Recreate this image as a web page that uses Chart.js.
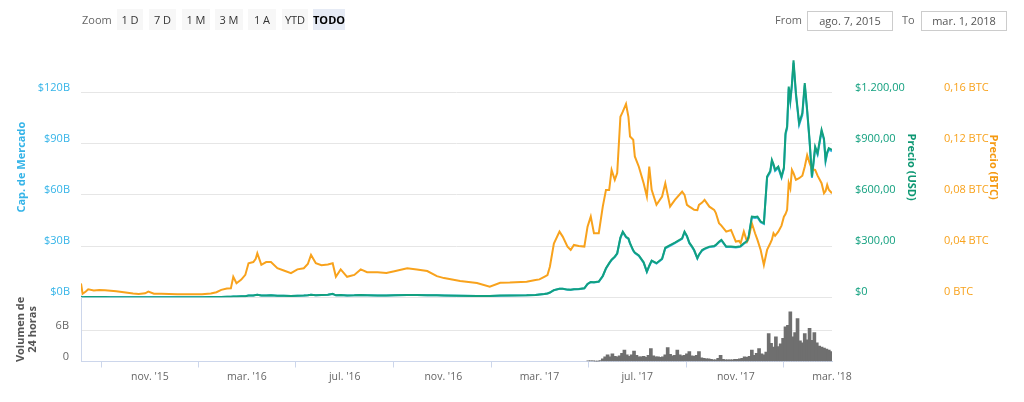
<!DOCTYPE html>
<html lang="es">
<head>
<meta charset="utf-8">
<title>Cap. de Mercado / Precio</title>
<script src="https://cdn.jsdelivr.net/npm/chart.js@4.4.1/dist/chart.umd.min.js"></script>
<style>
  html, body { margin: 0; padding: 0; background: #fff; }
  body { position: relative; width: 1024px; height: 402px; overflow: hidden; font-family: "Open Sans", sans-serif; }
  canvas { position: absolute; left: 0; }
  #mainChart { top: 0; }
  #volumeChart { top: 250px; }
  .bar { position: absolute; z-index: 2; }
  .lbl { position: absolute; top: 11px; font-size: 11px; color: #666; line-height: 18px; }
  .btn { position: absolute; top: 9px; height: 21px; line-height: 21px; font-size: 11px; color: #333; background: #f7f7f7; text-align: center; }
  .btn.on { background: #e6ebf5; color: #000; font-weight: bold; }
  .date { position: absolute; top: 11px; height: 18px; line-height: 18px; border: 1px solid #ccc; font-size: 11px; color: #555; text-align: center; }
</style>
</head>
<body>
<canvas id="mainChart" width="1024" height="330"></canvas>
<canvas id="volumeChart" width="1024" height="152"></canvas>

<div class="bar">
  <span class="lbl" style="left:82px">Zoom</span>
  <span class="btn" style="left:117px;width:26px">1 D</span>
  <span class="btn" style="left:149px;width:27px">7 D</span>
  <span class="btn" style="left:182px;width:28px">1 M</span>
  <span class="btn" style="left:215px;width:28px">3 M</span>
  <span class="btn" style="left:248px;width:28px">1 A</span>
  <span class="btn" style="left:282px;width:26px">YTD</span>
  <span class="btn on" style="left:313px;width:32px">TODO</span>
  <span class="lbl" style="left:775px">From</span>
  <span class="date" style="left:807px;width:84px">ago. 7, 2015</span>
  <span class="lbl" style="left:902px">To</span>
  <span class="date" style="left:921px;width:84px">mar. 1, 2018</span>
</div>

<script>
// fechas de los puntos de precio / cap. de mercado
const MAIN_DATES = [
  "2015-08-07","2015-08-09","2015-08-13","2015-08-16","2015-08-23","2015-08-30","2015-09-06","2015-09-13","2015-09-20","2015-09-27",
  "2015-10-04","2015-10-11","2015-10-18","2015-10-26","2015-10-30","2015-11-06","2015-11-15","2015-11-25","2015-12-05","2015-12-15",
  "2015-12-25","2016-01-05","2016-01-16","2016-01-23","2016-01-29","2016-02-05","2016-02-10","2016-02-13","2016-02-17","2016-02-23",
  "2016-02-28","2016-03-03","2016-03-09","2016-03-12","2016-03-14","2016-03-19","2016-03-25","2016-03-31","2016-04-08","2016-04-16",
  "2016-04-25","2016-05-03","2016-05-11","2016-05-16","2016-05-20","2016-05-26","2016-06-02","2016-06-10","2016-06-16","2016-06-20",
  "2016-06-26","2016-07-04","2016-07-13","2016-07-21","2016-07-29","2016-08-11","2016-08-22","2016-09-01","2016-09-17","2016-09-29",
  "2016-10-12","2016-10-24","2016-11-02","2016-11-22","2016-12-13","2016-12-29","2017-01-11","2017-01-23","2017-02-13","2017-02-24",
  "2017-03-01","2017-03-07","2017-03-11","2017-03-14","2017-03-19","2017-03-26","2017-03-30","2017-04-05","2017-04-09","2017-04-13",
  "2017-04-19","2017-04-26","2017-04-30","2017-05-04","2017-05-08","2017-05-14","2017-05-19","2017-05-23","2017-05-27","2017-05-30",
  "2017-06-03","2017-06-06","2017-06-10","2017-06-13","2017-06-17","2017-06-20","2017-06-22","2017-06-26","2017-06-28","2017-07-03",
  "2017-07-09","2017-07-13","2017-07-16","2017-07-19","2017-07-25","2017-08-01","2017-08-05","2017-08-11","2017-08-17","2017-08-26",
  "2017-08-29","2017-09-01","2017-09-04","2017-09-07","2017-09-10","2017-09-14","2017-09-16","2017-09-20","2017-09-23","2017-09-29",
  "2017-10-05","2017-10-07","2017-10-11","2017-10-14","2017-10-20","2017-10-26","2017-11-01","2017-11-05","2017-11-07","2017-11-11",
  "2017-11-15","2017-11-17","2017-11-21","2017-11-25","2017-11-28","2017-12-02","2017-12-06","2017-12-10","2017-12-14","2017-12-16",
  "2017-12-18","2017-12-20","2017-12-24","2017-12-28","2017-12-31","2018-01-02","2018-01-04","2018-01-06","2018-01-08","2018-01-10",
  "2018-01-12","2018-01-15","2018-01-19","2018-01-23","2018-01-26","2018-01-29","2018-02-01","2018-02-04","2018-02-08","2018-02-11",
  "2018-02-16","2018-02-19","2018-02-21","2018-02-23","2018-02-25","2018-03-01"
];

const PRICE_USD = [
  2.8,0.7,1.2,1.6,1.4,1.3,1.3,1.0,0.95,0.8,
  0.7,0.6,0.5,0.95,1.0,0.9,0.9,0.9,0.85,0.85,
  0.9,0.95,1.2,1.6,2.4,2.6,3.2,5.3,4.2,5.8,
  6.8,10.0,11.0,14.0,14.5,10.5,11.0,11.5,9.5,8.7,
  8.0,9.5,10.0,12.0,14.5,12.5,13.8,14.5,20.0,11.5,
  13.5,11.0,11.5,13.5,12.5,11.0,11.0,11.8,13.0,13.2,
  12.0,11.5,10.9,9.8,8.3,8.0,9.9,10.5,11.5,13.5,
  17,19,22,28,42,50,50,45,44,47,
  48,53,78,90,88,92,125,170,200,220,
  238,258,350,385,355,345,317,275,262,245,
  205,150,185,215,200,226,290,305,320,345,
  385,360,320,300,277,229,250,277,285,297,
  300,307,325,336,297,297,295,297,300,317,
  330,356,473,470,473,444,434,707,740,805,
  780,747,766,707,760,962,1000,1235,1157,1250,
  1388,1196,1020,1079,1255,1098,922,707,883,844,
  981,930,805,850,874,864
];

const PRICE_BTC = [
  0.0108,0.0028,0.0045,0.0062,0.0054,0.0057,0.0056,0.0052,0.0048,0.0042,
  0.0036,0.0030,0.0026,0.0031,0.0044,0.0028,0.0027,0.0026,0.0024,0.0023,
  0.0023,0.0024,0.0030,0.0040,0.0058,0.0068,0.0070,0.0160,0.0110,0.0138,
  0.0175,0.0266,0.0275,0.0300,0.0344,0.0254,0.0275,0.0275,0.0227,0.0209,
  0.0188,0.0218,0.0227,0.0260,0.0331,0.0266,0.0250,0.0257,0.0266,0.0160,
  0.0218,0.0160,0.0175,0.0218,0.0196,0.0195,0.0190,0.0204,0.0227,0.0218,
  0.0205,0.0165,0.0150,0.0128,0.0112,0.0082,0.0114,0.0115,0.0122,0.0135,
  0.0140,0.0160,0.0174,0.0239,0.0420,0.0513,0.0474,0.0396,0.0370,0.0409,
  0.0400,0.0396,0.0552,0.0630,0.0500,0.0501,0.0708,0.0839,0.0839,0.0995,
  0.0917,0.0970,0.1410,0.1450,0.1510,0.1410,0.1256,0.1230,0.1100,0.1020,
  0.0890,0.0787,0.1020,0.0839,0.0722,0.0787,0.0890,0.0708,0.0761,0.0826,
  0.0800,0.0722,0.0708,0.0696,0.0683,0.0680,0.0722,0.0740,0.0761,0.0708,
  0.0683,0.0660,0.0579,0.0560,0.0513,0.0526,0.0435,0.0440,0.0422,0.0513,
  0.0435,0.0460,0.0579,0.0500,0.0448,0.0370,0.0253,0.0370,0.0422,0.0450,
  0.0500,0.0480,0.0513,0.0560,0.0630,0.0650,0.0683,0.0891,0.0850,0.0995,
  0.0970,0.0917,0.0930,0.0950,0.1020,0.1110,0.1050,0.1000,0.0995,0.0950,
  0.0891,0.0813,0.0830,0.0878,0.0840,0.0813
];

// miles de millones USD
const MARKET_CAP_B = [
  0.28,0.07,0.12,0.16,0.14,0.13,0.13,0.10,0.09,0.08,
  0.07,0.06,0.05,0.09,0.10,0.09,0.09,0.09,0.08,0.08,
  0.09,0.09,0.12,0.16,0.24,0.26,0.32,0.52,0.42,0.57,
  0.67,0.99,1.09,1.39,1.44,1.04,1.09,1.14,0.94,0.86,
  0.79,0.94,0.99,1.19,1.44,1.24,1.37,1.44,1.98,1.14,
  1.34,1.09,1.14,1.34,1.24,1.09,1.09,1.17,1.29,1.31,
  1.19,1.14,1.08,0.97,0.82,0.79,0.98,1.04,1.14,1.34,
  1.68,1.88,2.18,2.77,4.16,4.95,4.95,4.46,4.36,4.65,
  4.75,5.25,7.72,8.91,8.71,9.11,12.4,16.8,19.8,21.8,
  23.6,25.5,34.7,38.1,35.1,34.2,31.4,27.2,25.9,24.3,
  20.3,14.9,18.3,21.3,19.8,22.4,28.7,30.2,31.7,34.2,
  38.1,35.6,31.7,29.7,27.4,22.7,24.8,27.4,28.2,29.4,
  29.7,30.4,32.2,33.3,29.4,29.4,29.2,29.4,29.7,31.4,
  32.7,35.2,46.8,46.5,46.8,44.0,43.0,70.0,73.3,79.7,
  77.2,74.0,75.8,70.0,75.2,95.2,99.0,122.3,114.5,123.8,
  137.4,118.4,101.0,106.8,124.2,108.7,91.3,70.0,87.4,83.6,
  97.1,92.1,79.7,84.2,86.5,85.5
];

// volumen 24h (miles de millones), un valor cada 3 dias desde VOL_START
const VOL_START = "2017-05-01";
const VOL_STEP_DAYS = 3;
const VOLUME_B = [
  0.12,0.12,0.12,0.03,0.03,0.2,
  0.5,0.9,1.3,0.9,1.5,1.0,0.9,1.1,1.6,2.2,
  1.3,1.0,1.3,2.0,1.2,0.9,0.9,1.0,0.8,1.2,
  2.5,1.1,0.9,0.9,0.8,0.9,1.3,2.7,1.4,1.1,
  1.2,2.2,1.3,1.1,1.2,1.5,1.9,1.1,1.0,1.2,
  1.9,0.7,0.6,0.5,0.5,0.4,0.3,0.3,0.6,1.2,
  0.4,0.3,0.3,0.3,0.3,0.4,0.4,0.5,0.6,0.9,
  0.8,1.0,2.2,1.2,1.6,2.5,1.5,1.3,1.8,5.4,
  3.5,2.8,4.8,2.9,3.4,4.5,6.7,7.0,9.6,4.8,
  5.6,8.3,4.0,3.6,5.4,4.2,6.4,4.1,5.6,3.6,
  3.0,2.8,2.6,2.4,2.2,1.9
];

const X_MIN = "2015-08-07";
const X_MAX = "2018-03-01";
const X_TICKS = ["2015-11-01","2016-03-01","2016-07-01","2016-11-01","2017-03-01","2017-07-01","2017-11-01","2018-03-01"];
const CAP_TICKS = [0, 30, 60, 90, 120];
const USD_TICKS = [0, 300, 600, 900, 1200];
const BTC_TICKS = [0, 0.04, 0.08, 0.12, 0.16];
const VOL_TICKS = [0, 6];
const MONTHS_ES = ["ene.","feb.","mar.","abr.","may.","jun.","jul.","ago.","sep.","oct.","nov.","dic."];

const BLUE = "#35b4e8";
const GREEN = "#12a07f";
const ORANGE = "#f8a21c";
const GRAY_BAR = "#6f6f6f";
const FONT = "'Open Sans', sans-serif";
const DAY = 86400000;

function toTs(s) {
  const [y, m, d] = s.split("-").map(Number);
  return Date.UTC(y, m - 1, d);
}
function pts(values) {
  return values.map((v, i) => ({ x: toTs(MAIN_DATES[i]), y: v }));
}
function fmtUsd(v) {
  if (v === 0) return "$0";
  const [a, b] = v.toFixed(2).split(".");
  return "$" + a.replace(/\B(?=(\d{3})+(?!\d))/g, ".") + "," + b;
}
function fmtBtc(v) {
  return v === 0 ? "0 BTC" : v.toFixed(2).replace(".", ",") + " BTC";
}
function fmtDate(ts) {
  const d = new Date(ts);
  return MONTHS_ES[d.getUTCMonth()] + " '" + String(d.getUTCFullYear()).slice(2);
}
const setTicks = (list) => (scale) => { scale.ticks = list.map((v) => ({ value: v })); };

const volPoints = VOLUME_B.map((v, i) => ({ x: toTs(VOL_START) + i * VOL_STEP_DAYS * DAY, y: v }));

const tickFont = { family: FONT, size: 11 };
const titleFont = { family: FONT, size: 11, weight: "bold" };

new Chart(document.getElementById("mainChart"), {
  type: "line",
  data: {
    datasets: [
      { label: "Precio (USD)", data: pts(PRICE_USD), yAxisID: "yUsd", borderColor: GREEN, order: 1 },
      { label: "Precio (BTC)", data: pts(PRICE_BTC), yAxisID: "yBtc", borderColor: ORANGE, order: 2 },
      { label: "Cap. de Mercado", data: pts(MARKET_CAP_B), yAxisID: "yCap", borderColor: BLUE, order: 3 },
    ],
  },
  options: {
    responsive: false,
    animation: false,
    layout: { padding: { top: 37, bottom: 32.7, left: 0, right: 0 } },
    elements: { point: { radius: 0 }, line: { borderWidth: 2, tension: 0 } },
    plugins: { legend: { display: false }, tooltip: { enabled: false } },
    scales: {
      x: { type: "linear", display: false, min: toTs(X_MIN), max: toTs(X_MAX) },
      yCap: {
        position: "left", min: 0, max: 152.5,
        afterBuildTicks: setTicks(CAP_TICKS),
        afterFit: (s) => { s.width = 81; },
        grid: { color: "#e6e6e6", drawTicks: false },
        border: { display: false },
        ticks: { color: BLUE, font: tickFont, padding: 11, labelOffset: -5, callback: (v) => "$" + v + "B" },
        title: { display: true, text: "Cap. de Mercado", color: BLUE, font: titleFont, padding: { top: 15.4, bottom: 0 } },
      },
      yUsd: {
        position: "right", weight: 1, min: 0, max: 1525,
        afterBuildTicks: setTicks(USD_TICKS),
        afterFit: (s) => { s.width = 90; },
        grid: { display: false },
        border: { display: false },
        ticks: { color: GREEN, font: tickFont, padding: 15, labelOffset: -5, callback: fmtUsd },
        title: { display: true, text: "Precio (USD)", color: "#0e9873", font: titleFont, padding: { top: 3.9, bottom: 0 } },
      },
      yBtc: {
        position: "right", weight: 2, min: 0, max: 0.2033,
        afterBuildTicks: setTicks(BTC_TICKS),
        afterFit: (s) => { s.width = 102; },
        grid: { display: false },
        border: { display: false },
        ticks: { color: ORANGE, font: tickFont, padding: 14, labelOffset: -5, callback: fmtBtc },
        title: { display: true, text: "Precio (BTC)", color: "#f59a12", font: titleFont, padding: { top: 24.4, bottom: 0 } },
      },
    },
  },
});

new Chart(document.getElementById("volumeChart"), {
  type: "bar",
  data: {
    datasets: [{
      label: "Volumen 24h", data: volPoints, backgroundColor: GRAY_BAR,
      barThickness: 3, borderWidth: 0,
    }],
  },
  options: {
    responsive: false,
    animation: false,
    layout: { padding: { top: 47.3, bottom: 15.5, left: 0, right: 192 } },
    plugins: { legend: { display: false }, tooltip: { enabled: false } },
    scales: {
      x: {
        type: "linear", offset: false, min: toTs(X_MIN), max: toTs(X_MAX),
        afterBuildTicks: setTicks(X_TICKS.map(toTs)),
        afterFit: (s) => { s.height = 25; },
        grid: { drawOnChartArea: false, drawTicks: true, tickLength: 6, color: "#ccd6eb" },
        border: { color: "#ccd6eb" },
        ticks: { autoSkip: false, maxRotation: 0, padding: 3, color: "#666", font: { family: FONT, size: 10.5 }, callback: fmtDate },
      },
      y: {
        position: "left", min: 0, max: 12.43,
        afterBuildTicks: setTicks(VOL_TICKS),
        afterFit: (s) => { s.width = 81; },
        grid: { color: "#e6e6e6", drawTicks: false },
        border: { display: true, color: "#ccd6eb" },
        ticks: { color: "#666", font: tickFont, padding: 12, labelOffset: -5, callback: (v) => (v === 0 ? "0" : v + "B") },
        title: {
          display: true, text: ["Volumen de", "24 horas"], color: "#555",
          font: { family: FONT, size: 11, weight: "bold", lineHeight: 1.05 }, padding: { top: 15.2, bottom: 0 },
        },
      },
    },
  },
});
</script>
</body>
</html>
